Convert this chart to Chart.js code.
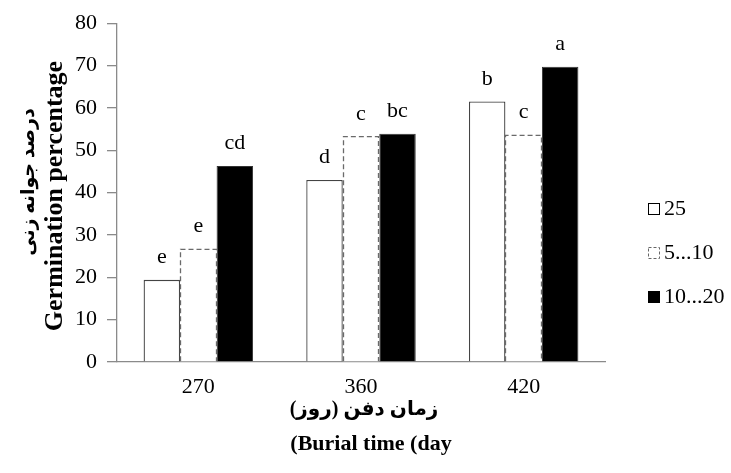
<!DOCTYPE html>
<html><head><meta charset="utf-8">
<script src="https://cdn.jsdelivr.net/npm/chart.js@4"></script>
<style>html,body{margin:0;padding:0;background:#fff}canvas{display:block}</style>
</head><body>
<canvas id="c" width="731" height="473"></canvas>
<script>
const categories = ['270', '360', '420'];
const seriesNames = ['25', '5...10', '10...20'];
const values25 = [19.4, 43.0, 61.5];
const values5to10 = [26.6, 53.2, 53.5];
const values10to20 = [46.3, 53.9, 69.7];
const letters25 = ['e', 'd', 'b'];
const letters5to10 = ['e', 'c', 'c'];
const letters10to20 = ['cd', 'bc', 'a'];
const yMin = 0, yMax = 80, yStep = 10;
const yTitlePersian = 'درصد جوانه زنی';
const yTitleEnglish = 'Germination percentage';
const xTitlePersian = 'زمان دفن (روز)';
const xTitleEnglish = '(Burial time (day';

const SERIF = "'Liberation Serif', 'Times New Roman', serif";
const ARABIC = "'Liberation Serif', 'DejaVu Sans', sans-serif";
const lettersBySeries = [letters25, letters5to10, letters10to20];

const dashedBars = {
  id: 'dashedBars',
  afterDatasetsDraw(chart) {
    const ctx = chart.ctx;
    const meta = chart.getDatasetMeta(1);
    ctx.save();
    ctx.strokeStyle = '#6a6a6a';
    ctx.lineWidth = 1.3;
    ctx.setLineDash([5, 3]);
    meta.data.forEach(el => {
      const p = el.getProps(['x', 'y', 'base', 'width'], true);
      const l = Math.round(p.x - p.width / 2) + 0.5, r = Math.round(p.x + p.width / 2) - 0.5;
      ctx.beginPath();
      ctx.moveTo(l, p.base);
      ctx.lineTo(l, p.y);
      ctx.lineTo(r, p.y);
      ctx.lineTo(r, p.base);
      ctx.stroke();
    });
    ctx.restore();
  }
};

const barLetters = {
  id: 'barLetters',
  afterDatasetsDraw(chart) {
    const ctx = chart.ctx;
    ctx.save();
    ctx.font = '22px ' + SERIF;
    ctx.fillStyle = '#000';
    ctx.textAlign = 'center';
    ctx.textBaseline = 'alphabetic';
    chart.data.datasets.forEach((ds, i) => {
      chart.getDatasetMeta(i).data.forEach((el, j) => {
        const p = el.getProps(['x', 'y'], true);
        ctx.fillText(lettersBySeries[i][j], p.x, p.y - 17);
      });
    });
    ctx.restore();
  }
};

const sideLegend = {
  id: 'sideLegend',
  afterDraw(chart) {
    const ctx = chart.ctx;
    ctx.save();
    ctx.font = '22px ' + SERIF;
    ctx.fillStyle = '#000';
    ctx.textBaseline = 'middle';
    ctx.textAlign = 'left';
    const x0 = 648, box = 11, gap = 44, top0 = 203;
    chart.data.datasets.forEach((ds, i) => {
      const top = top0 + i * gap;
      ctx.save();
      if (i === 1) {
        ctx.strokeStyle = '#666';
        ctx.lineWidth = 1;
        ctx.setLineDash([3, 2]);
        ctx.strokeRect(x0 + 0.5, top + 0.5, box, box);
      } else {
        ctx.fillStyle = ds.backgroundColor;
        ctx.fillRect(x0, top, box, box);
        ctx.strokeStyle = '#000';
        ctx.lineWidth = 1;
        ctx.strokeRect(x0 + 0.5, top + 0.5, box, box);
      }
      ctx.restore();
      ctx.fillText(ds.label, x0 + box + 5, top + box / 2 + 1);
    });
    ctx.restore();
  }
};

const axisTitles = {
  id: 'axisTitles',
  afterDraw(chart) {
    const ctx = chart.ctx;
    ctx.save();
    ctx.fillStyle = '#000';
    ctx.textAlign = 'center';
    ctx.textBaseline = 'middle';
    // y-axis titles (rotated)
    ctx.save();
    ctx.direction = 'rtl';
    ctx.translate(29, 182);
    ctx.rotate(-Math.PI / 2);
    ctx.font = 'bold 19px ' + ARABIC;
    ctx.fillText(yTitlePersian, 0, 0);
    ctx.restore();
    ctx.save();
    ctx.direction = 'ltr';
    ctx.translate(55, 196);
    ctx.rotate(-Math.PI / 2);
    ctx.font = 'bold 26px ' + SERIF;
    ctx.fillText(yTitleEnglish, 0, 0);
    ctx.restore();
    // x-axis titles
    ctx.save();
    ctx.direction = 'rtl';
    ctx.font = 'bold 20px ' + ARABIC;
    ctx.fillText(xTitlePersian, 364, 410);
    ctx.restore();
    ctx.save();
    ctx.direction = 'ltr';
    ctx.font = 'bold 22px ' + SERIF;
    ctx.fillText(xTitleEnglish, 371, 444);
    ctx.restore();
    ctx.restore();
  }
};

const whiteBg = {
  id: 'whiteBg',
  beforeDraw(chart) {
    const ctx = chart.ctx;
    ctx.save();
    ctx.fillStyle = '#fff';
    ctx.fillRect(0, 0, chart.width, chart.height);
    ctx.restore();
  }
};

new Chart(document.getElementById('c'), {
  type: 'bar',
  data: {
    labels: categories,
    datasets: [
      { label: seriesNames[0], data: values25, backgroundColor: '#ffffff', borderColor: '#444', borderWidth: 1.3, borderSkipped: 'start' },
      { label: seriesNames[1], data: values5to10, backgroundColor: '#ffffff', borderColor: '#666', borderWidth: 0 },
      { label: seriesNames[2], data: values10to20, backgroundColor: '#000000', borderColor: '#333', borderWidth: 1, borderSkipped: 'start' }
    ]
  },
  options: {
    responsive: false,
    animation: false,
    devicePixelRatio: 1,
    layout: { padding: { top: 22, right: 126, left: 0, bottom: 0 } },
    datasets: { bar: { categoryPercentage: 0.673, barPercentage: 1.0 } },
    plugins: { legend: { display: false }, tooltip: { enabled: false } },
    scales: {
      x: {
        grid: { display: false, drawTicks: false },
        border: { display: true, color: '#8a8a8a', width: 1.3 },
        ticks: { color: '#000', font: { family: SERIF, size: 22 }, padding: 12 },
        title: { display: false },
        afterFit(scale) { scale.height = 111; }
      },
      y: {
        min: yMin, max: yMax,
        grid: { display: true, drawOnChartArea: false, drawTicks: true, tickLength: 10, color: '#8a8a8a', lineWidth: 1.3 },
        border: { display: true, color: '#8a8a8a', width: 1.3 },
        ticks: { stepSize: yStep, color: '#000', font: { family: SERIF, size: 22 }, padding: 10 },
        title: { display: false },
        afterFit(scale) { scale.width = 117; }
      }
    }
  },
  plugins: [whiteBg, dashedBars, barLetters, sideLegend, axisTitles]
});
</script>
</body></html>
